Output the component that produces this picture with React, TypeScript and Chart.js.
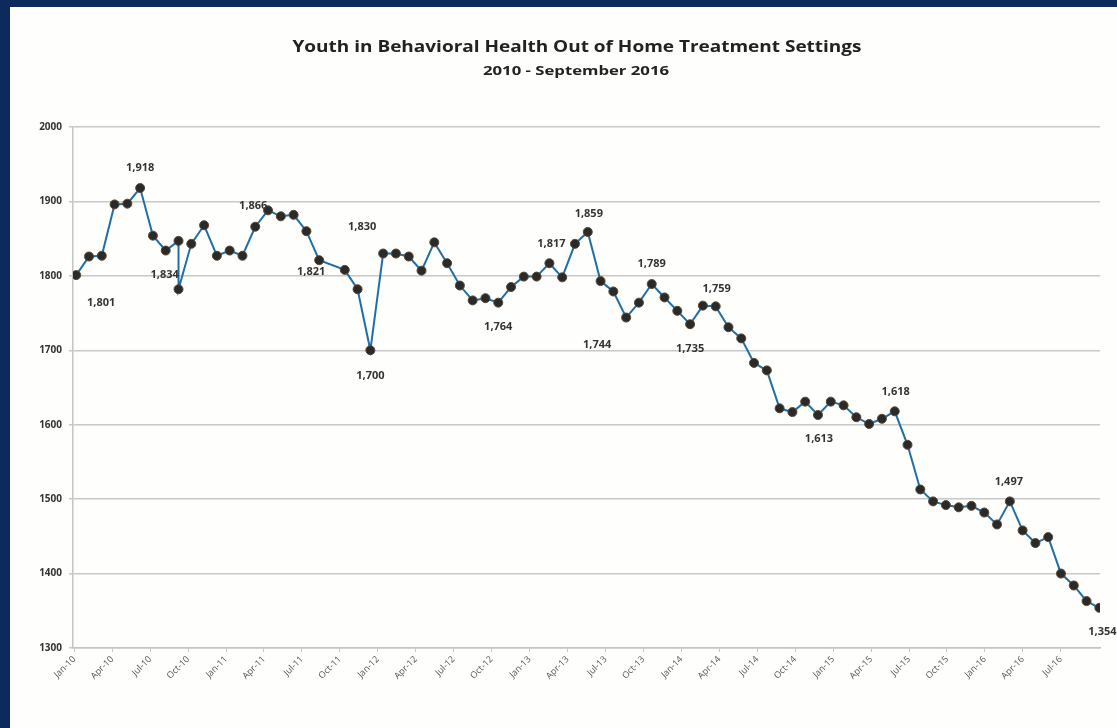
import React, { useEffect, useRef } from "react";
import { Chart, registerables } from "chart.js";

Chart.register(...registerables);

const chartTitle = "Youth in Behavioral Health Out of Home Treatment Settings";
const chartSubtitle = "2010 - September 2016";

const months: string[] = [
  "Jan-10", "Feb-10", "Mar-10", "Apr-10", "May-10", "Jun-10", "Jul-10", "Aug-10", "Sep-10", "Oct-10", "Nov-10", "Dec-10",
  "Jan-11", "Feb-11", "Mar-11", "Apr-11", "May-11", "Jun-11", "Jul-11", "Aug-11", "Sep-11", "Oct-11", "Nov-11", "Dec-11",
  "Jan-12", "Feb-12", "Mar-12", "Apr-12", "May-12", "Jun-12", "Jul-12", "Aug-12", "Sep-12", "Oct-12", "Nov-12", "Dec-12",
  "Jan-13", "Feb-13", "Mar-13", "Apr-13", "May-13", "Jun-13", "Jul-13", "Aug-13", "Sep-13", "Oct-13", "Nov-13", "Dec-13",
  "Jan-14", "Feb-14", "Mar-14", "Apr-14", "May-14", "Jun-14", "Jul-14", "Aug-14", "Sep-14", "Oct-14", "Nov-14", "Dec-14",
  "Jan-15", "Feb-15", "Mar-15", "Apr-15", "May-15", "Jun-15", "Jul-15", "Aug-15", "Sep-15", "Oct-15", "Nov-15", "Dec-15",
  "Jan-16", "Feb-16", "Mar-16", "Apr-16", "May-16", "Jun-16", "Jul-16", "Aug-16", "Sep-16",
];

// Youth count per month (null = no reading shown for that month)
const youthCounts: (number | null)[] = [
  1801, 1826, 1827, 1896, 1897, 1918, 1854, 1834, 1847, 1843, 1868, 1827,
  1834, 1827, 1866, 1888, 1880, 1882, 1860, 1821, null, 1808, 1782, 1700,
  1830, 1830, 1826, 1807, 1845, 1817, 1787, 1767, 1770, 1764, 1785, 1799,
  1799, 1817, 1798, 1843, 1859, 1793, 1779, 1744, 1764, 1789, 1771, 1753,
  1735, 1760, 1759, 1731, 1716, 1683, 1673, 1622, 1617, 1631, 1613, 1631,
  1626, 1610, 1601, 1608, 1618, 1573, 1513, 1497, 1492, 1489, 1491, 1482,
  1466, 1497, 1458, 1441, 1449, 1400, 1384, 1363, 1354,
];

// A second reading plotted in the same month
const extraReadings = [{ month: "Sep-10", count: 1782 }];

const yTickValues = [1300, 1400, 1500, 1600, 1700, 1800, 1900, 2000];

const tickMonths = [
  "Jan-10", "Apr-10", "Jul-10", "Oct-10", "Jan-11", "Apr-11", "Jul-11", "Oct-11", "Jan-12", "Apr-12", "Jul-12", "Oct-12",
  "Jan-13", "Apr-13", "Jul-13", "Oct-13", "Jan-14", "Apr-14", "Jul-14", "Oct-14", "Jan-15", "Apr-15", "Jul-15", "Oct-15",
  "Jan-16", "Apr-16", "Jul-16",
];

const labelledMonths = [
  "Jan-10", "Jun-10", "Aug-10", "Mar-11", "Aug-11", "Dec-11", "Jan-12", "Oct-12", "Feb-13", "May-13",
  "Aug-13", "Oct-13", "Jan-14", "Mar-14", "Nov-14", "May-15", "Feb-16", "Sep-16",
];

// label placement (style): [dx, dy] from the point
const labelOffsets: Record<string, [number, number]> = {
  "Jan-10": [25, 28], "Jun-10": [0, -20], "Aug-10": [-1, 24], "Mar-11": [-2, -21], "Aug-11": [-8, 12],
  "Dec-11": [0, 26], "Jan-12": [-21, -27], "Oct-12": [0, 24], "Feb-13": [2, -19], "May-13": [1, -18],
  "Aug-13": [-29, 27], "Oct-13": [0, -20], "Jan-14": [0, 25], "Mar-14": [1, -18], "Nov-14": [1, 24],
  "May-15": [1, -19], "Feb-16": [-1, -20], "Sep-16": [3, 24],
};

function buildPoints() {
  const pts: { x: number; y: number }[] = [];
  months.forEach((m, i) => {
    const v = youthCounts[i];
    if (v !== null) pts.push({ x: i, y: v });
    extraReadings.filter((e) => e.month === m).forEach((e) => pts.push({ x: i, y: e.count }));
  });
  return pts;
}

const fmt = (n: number) => n.toLocaleString("en-US");

function drawStretched(ctx: CanvasRenderingContext2D, text: string, cx: number, cy: number, targetW: number) {
  const w = ctx.measureText(text).width;
  ctx.save();
  ctx.translate(cx, cy);
  ctx.scale(targetW / w, 1);
  ctx.fillText(text, 0, 0);
  ctx.restore();
}

export default function App() {
  const ref = useRef<HTMLCanvasElement | null>(null);

  useEffect(() => {
    document.body.style.margin = "0";
    if (!ref.current) return;

    const framePlugin = {
      id: "frame",
      beforeDraw(chart: any) {
        const { ctx, width, height } = chart;
        ctx.save();
        ctx.fillStyle = "#fefefc";
        ctx.fillRect(0, 0, width, height);
        ctx.fillStyle = "#0c2a5c";
        ctx.fillRect(0, 0, width, 7);
        ctx.fillRect(0, 0, 10, height);
        ctx.fillStyle = "#222";
        ctx.textAlign = "center";
        ctx.textBaseline = "middle";
        ctx.font = "bold 16px 'Open Sans'";
        drawStretched(ctx, chartTitle, 577, 47, 569);
        ctx.font = "bold 13px 'Open Sans'";
        drawStretched(ctx, chartSubtitle, 576, 71, 186);
        ctx.restore();
      },
    };

    const labelPlugin = {
      id: "pointLabels",
      afterDatasetsDraw(chart: any) {
        const { ctx } = chart;
        const xs = chart.scales.x;
        const ys = chart.scales.y;
        ctx.save();
        ctx.fillStyle = "#333";
        ctx.font = "bold 11px 'Open Sans'";
        ctx.textAlign = "center";
        ctx.textBaseline = "middle";
        labelledMonths.forEach((m) => {
          const i = months.indexOf(m);
          const v = youthCounts[i];
          if (v === null) return;
          const [dx, dy] = labelOffsets[m] || [0, -20];
          ctx.fillText(fmt(v), xs.getPixelForValue(i) + dx, ys.getPixelForValue(v) + dy);
        });
        ctx.restore();
      },
    };

    const chart = new Chart(ref.current, {
      type: "line",
      data: {
        datasets: [
          {
            label: "Youth",
            data: buildPoints(),
            xAxisID: "x",
            yAxisID: "y",
            borderColor: "#1f6fa5",
            borderWidth: 2,
            pointRadius: 4.5,
            pointBackgroundColor: "#2a2a2a",
            pointBorderColor: "#5a4630",
            pointBorderWidth: 1,
            tension: 0,
          },
        ],
      },
      options: {
        animation: false,
        responsive: true,
        maintainAspectRatio: false,
        layout: { padding: { top: 127, right: 17, bottom: 0, left: 0 } },
        plugins: { legend: { display: false }, title: { display: false }, tooltip: { enabled: false } },
        scales: {
          x: {
            type: "linear",
            display: false,
            min: -0.25,
            max: 80.05,
          },
          xl: {
            type: "linear",
            position: "bottom",
            min: -0.1,
            max: 81.1,
            afterFit: (s: any) => {
              s.height = 80;
            },
            afterBuildTicks: (s: any) => {
              s.ticks = tickMonths.map((m) => ({ value: months.indexOf(m) }));
            },
            grid: { drawOnChartArea: false, drawTicks: true, tickLength: 4, color: "#c4c4c4" },
            border: { display: true, color: "#c4c4c4", width: 1.5 },
            ticks: {
              autoSkip: false,
              minRotation: 45,
              maxRotation: 45,
              padding: 2,
              color: "#555",
              font: { family: "'Open Sans'", size: 9 },
              callback: (v: any) => months[Math.round(Number(v))] ?? "",
            },
          },
          y: {
            type: "linear",
            min: 1300,
            max: 2000,
            afterFit: (s: any) => {
              s.width = 73;
            },
            afterBuildTicks: (s: any) => {
              s.ticks = yTickValues.map((v) => ({ value: v }));
            },
            grid: { color: "#c8c8c8", lineWidth: 1.5, tickLength: 4 },
            border: { display: true, color: "#c4c4c4", width: 1.5 },
            ticks: {
              padding: 7,
              color: "#333",
              font: { family: "'Open Sans'", size: 10, weight: "bold" },
              callback: (v: any) => String(v),
            },
          },
        },
      },
      plugins: [framePlugin, labelPlugin],
    } as any);

    return () => chart.destroy();
  }, []);

  return (
    <div style={{ position: "relative", width: 1117, height: 728 }}>
      <canvas ref={ref} />
    </div>
  );
}
